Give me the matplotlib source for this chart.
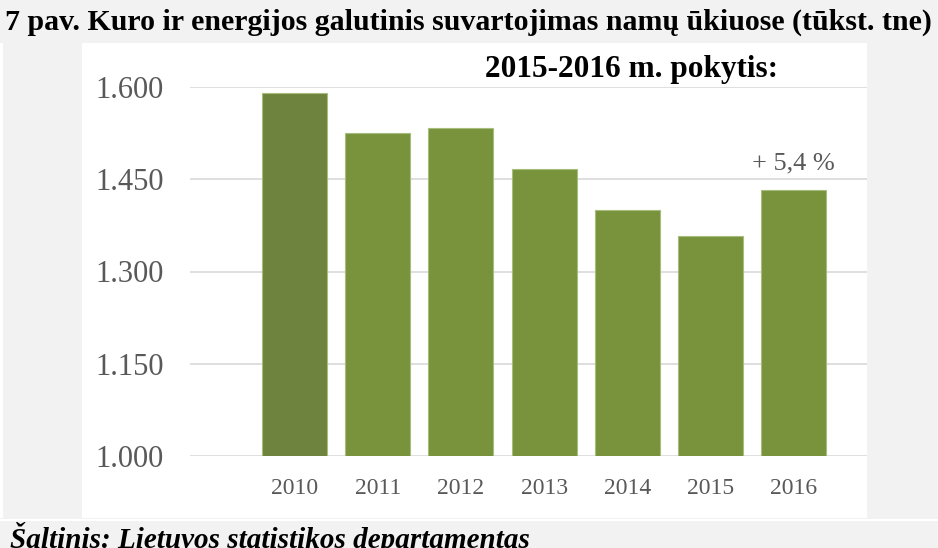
"""Household final fuel and energy consumption, 2010-2016."""

import matplotlib

matplotlib.use("Agg")

import matplotlib.pyplot as plt
from matplotlib.patches import Rectangle
from matplotlib.ticker import FuncFormatter

years = ["2010", "2011", "2012", "2013", "2014", "2015", "2016"]
consumption = [1.591, 1.525, 1.533, 1.467, 1.400, 1.358, 1.432]
y_ticks = [1.000, 1.150, 1.300, 1.450, 1.600]
change_label = "+ 5,4 %"

title = "7 pav. Kuro ir energijos galutinis suvartojimas namų ūkiuose (tūkst. tne)"
subtitle = "2015-2016 m. pokytis:"
source = "Šaltinis: Lietuvos statistikos departamentas"

W, H = 938, 548
SERIF = "Liberation Serif"
GRAY_TEXT = "#595959"

fig = plt.figure(figsize=(W / 100, H / 100), dpi=100)
fig.patch.set_facecolor("#f2f2f2")


def px_rect(left, top, right, bottom, color):
    """Add a figure-level rectangle given in pixel coordinates."""
    fig.patches.append(
        Rectangle((left / W, 1 - bottom / H), (right - left) / W,
                  (bottom - top) / H, transform=fig.transFigure,
                  facecolor=color, edgecolor="none", zorder=-10)
    )


# white chart panel, thin white rule under it and a sliver at the left edge
px_rect(82, 43, 867, 518, "white")
px_rect(0, 519, W, 521, "white")
px_rect(0, 43, 3, 518, "white")

ax = fig.add_axes([190 / W, 1 - 456 / H, (867 - 190) / W, (456 - 87) / H])
ax.set_facecolor("none")

x = list(range(len(years)))
colors = ["#6e843e"] + ["#78933c"] * (len(years) - 1)
ax.bar(x, consumption, width=0.78, bottom=0, color=colors,
       edgecolor="#a6bd7c", linewidth=0.8, zorder=3)

ax.set_ylim(1.0, 1.6)
ax.set_xlim(-1.256, 6.88)
ax.set_yticks(y_ticks)
ax.yaxis.set_major_formatter(FuncFormatter(lambda v, _: f"{v:.3f}"))
ax.set_xticks(x)
ax.set_xticklabels(years)
ax.grid(axis="y", color="#d9d9d9", linewidth=1.2, zorder=0)
for spine in ax.spines.values():
    spine.set_visible(False)
ax.tick_params(axis="y", length=0, pad=19, labelsize=22, labelcolor=GRAY_TEXT)
ax.tick_params(axis="x", length=0, pad=16, labelsize=17, labelcolor=GRAY_TEXT)
for label in ax.get_xticklabels() + ax.get_yticklabels():
    label.set_fontfamily(SERIF)

ax.text(x[-1], consumption[-1] + 0.044, change_label, ha="center",
        va="center", fontsize=19, color=GRAY_TEXT, family=SERIF)

fig.text(631 / W, 1 - 70 / H, subtitle, ha="center", va="center",
         fontsize=22.5, fontweight="bold", family=SERIF, color="black")
fig.text(468 / W, 1 - 22 / H, title, ha="center", va="center",
         fontsize=21.5, fontweight="bold", family=SERIF, color="black")
fig.text(10 / W, 1 - 538 / H, source, ha="left", va="center",
         fontsize=21, fontweight="bold", fontstyle="italic", family=SERIF,
         color="black")

fig.savefig("out.png", dpi=100, facecolor=fig.get_facecolor())
